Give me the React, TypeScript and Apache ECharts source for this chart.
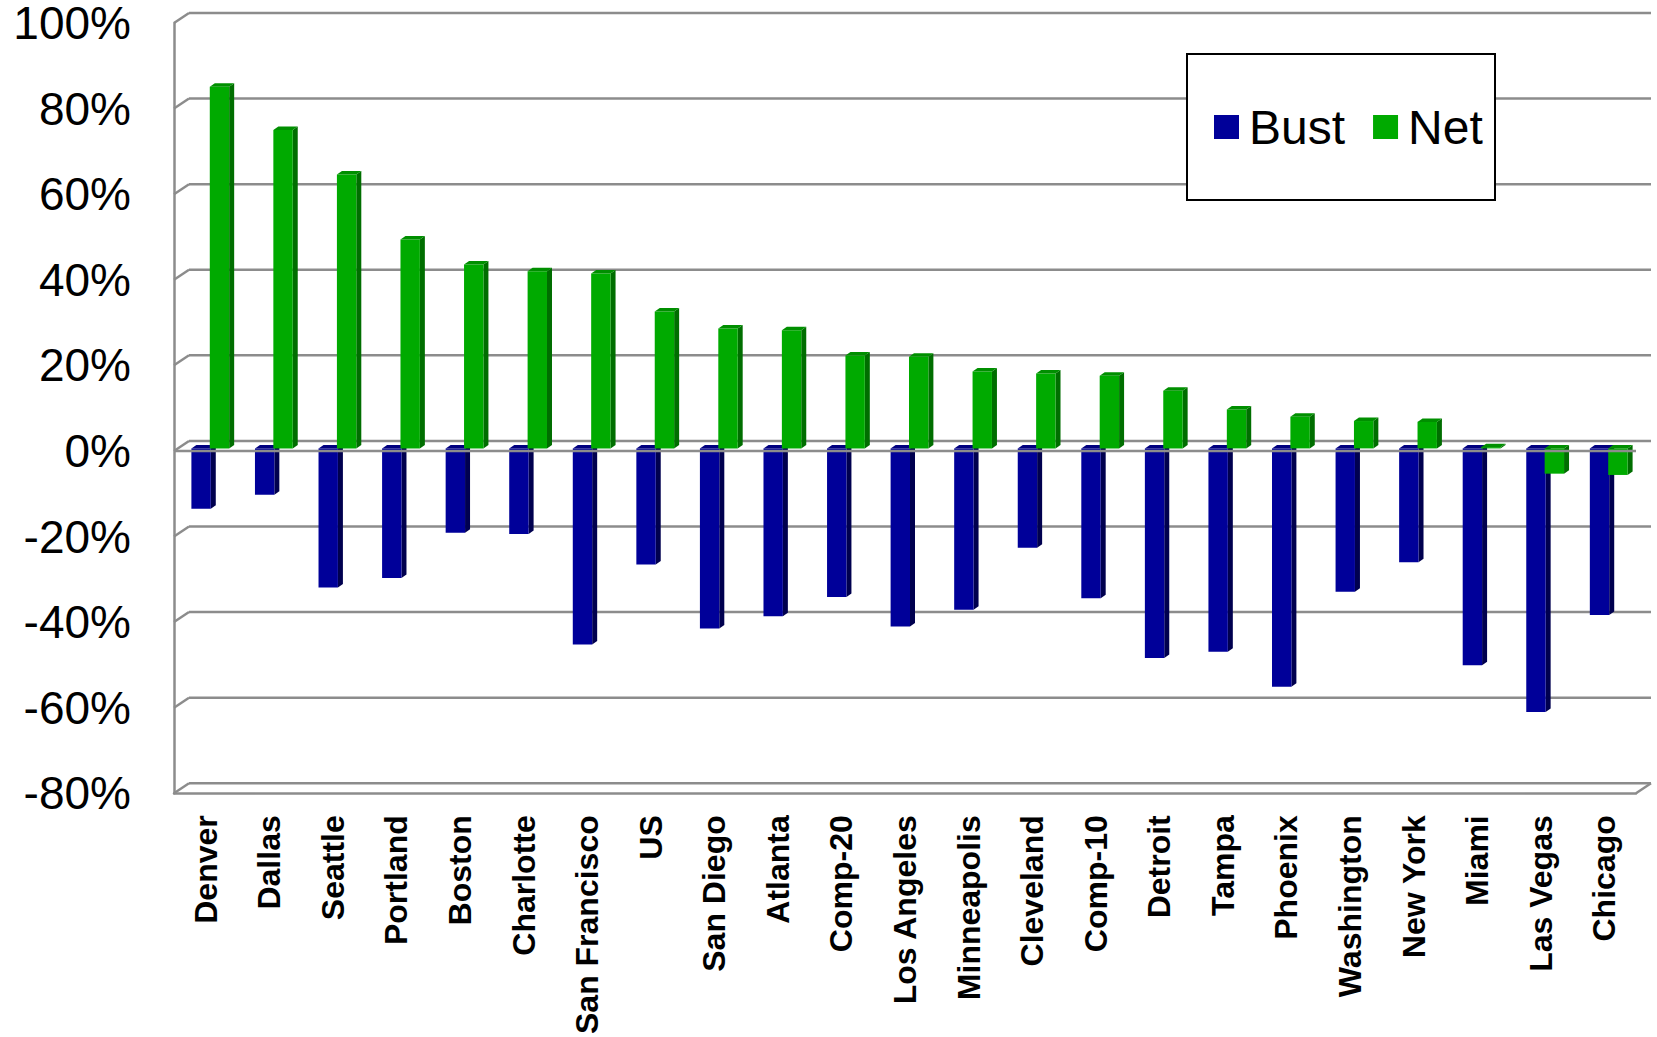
import React, { useEffect, useRef } from "react";
import * as echarts from "echarts";

const categories = [
  "Denver", "Dallas", "Seattle", "Portland", "Boston", "Charlotte", "San Francisco",
  "US", "San Diego", "Atlanta", "Comp-20", "Los Angeles", "Minneapolis", "Cleveland",
  "Comp-10", "Detroit", "Tampa", "Phoenix", "Washington", "New York", "Miami",
  "Las Vegas", "Chicago",
];
const bust = [
  -14.1, -10.8, -32.5, -30.3, -19.7, -20.0, -45.8, -27.1, -42.1, -39.2, -34.7, -41.6,
  -37.7, -23.2, -35.0, -49.0, -47.5, -55.7, -33.5, -26.6, -50.7, -61.6, -38.9,
];
const net = [
  84.5, 74.4, 64.0, 48.8, 43.0, 41.4, 40.9, 32.0, 28.0, 27.6, 21.7, 21.4,
  18.0, 17.5, 17.0, 13.5, 9.1, 7.4, 6.4, 6.2, 0.3, -5.9, -6.2,
];
const yTicks = [-80, -60, -40, -20, 0, 20, 40, 60, 80, 100];

// styling constants
const DX = 15; // wall depth
const DY = 10;
const OX = 5; // bar front offset
const OY = -2.5;
const BDX = 5; // bar depth
const BDY = 3.5;
const GRID_COLOR = "#8c8c8c";

const palette = {
  Bust: { front: "#000099", side: "#00004f", top: "#00007f" },
  Net: { front: "#00aa00", side: "#006e00", top: "#008f00" },
};

function makeBarRenderer(name: "Bust" | "Net") {
  const c = palette[name];
  return (params: any, api: any) => {
    const i = api.value(0);
    const v = api.value(1);
    const p0 = api.coord([i, 0]);
    const p1 = api.coord([i, v]);
    const band = api.size([1, 0])[0];
    const w = band * 0.305;
    const cx = p0[0] + OX;
    const x0 = name === "Bust" ? cx - w : cx - 1;
    const x1 = x0 + w;
    const yA = Math.min(p0[1], p1[1]) + OY;
    const yB = Math.max(p0[1], p1[1]) + OY;
    return {
      type: "group",
      children: [
        {
          type: "polygon",
          shape: { points: [[x1, yA], [x1 + BDX, yA - BDY], [x1 + BDX, yB - BDY], [x1, yB]] },
          style: { fill: c.side },
        },
        {
          type: "rect",
          shape: { x: x0, y: yA, width: w, height: yB - yA },
          style: { fill: c.front },
        },
        {
          type: "polygon",
          shape: { points: [[x0, yA], [x0 + BDX, yA - BDY], [x1 + BDX, yA - BDY], [x1, yA]] },
          style: { fill: c.top },
        },
      ],
    };
  };
}

export default function App() {
  const ref = useRef<HTMLDivElement>(null);
  useEffect(() => {
    if (!ref.current) return;
    const chart = echarts.init(ref.current, null, { renderer: "svg" });
    const lineStyle = { stroke: GRID_COLOR, lineWidth: 2.5 };
    const option: any = {
      animation: false,
      backgroundColor: "#ffffff",
      grid: { left: 174, top: 22, width: 1462, height: 777 },
      legend: {
        data: ["Bust", "Net"],
        left: 1214,
        top: 103,
        padding: 0,
        icon: "rect",
        itemWidth: 25,
        itemHeight: 24,
        itemGap: 28,
        z: 20,
        textStyle: {
          fontFamily: "Liberation Sans",
          fontSize: 48,
          lineHeight: 48,
          color: "#000",
          padding: [0, 0, 0, 5],
        },
      },
      graphic: [
        {
          type: "rect",
          z: 10,
          shape: { x: 1187, y: 54, width: 308, height: 146 },
          style: { fill: "#fff", stroke: "#000", lineWidth: 2 },
        },
      ],
      xAxis: {
        type: "category",
        data: categories,
        axisLine: { show: true, onZero: false, lineStyle: { color: GRID_COLOR, width: 2.5 } },
        axisTick: { show: false },
        splitLine: { show: false },
        axisLabel: {
          rotate: 90,
          margin: 22,
          interval: 0,
          fontFamily: "Liberation Sans",
          fontWeight: "bold",
          fontSize: 32,
          color: "#000",
        },
      },
      yAxis: {
        type: "value",
        min: -80,
        max: 100,
        interval: 20,
        axisLine: { show: true, lineStyle: { color: GRID_COLOR, width: 2.5 } },
        axisTick: { show: false },
        splitLine: { show: false },
        axisLabel: {
          formatter: "{value}%",
          margin: 43,
          fontFamily: "Liberation Sans",
          fontSize: 46,
          lineHeight: 40,
          padding: [4, 0, 0, 0],
          color: "#000",
        },
      },
      series: [
        {
          type: "custom",
          name: "frame",
          silent: true,
          z: 1,
          data: [[0, 0]],
          encode: { x: 0, y: 1 },
          renderItem: (params: any, api: any) => {
            const cs = params.coordSys;
            const L = cs.x;
            const R = cs.x + cs.width;
            const children: any[] = [];
            yTicks.forEach((t) => {
              const y = api.coord([0, t])[1];
              children.push({
                type: "line",
                shape: { x1: L + DX, y1: y - DY, x2: R + DX, y2: y - DY },
                style: lineStyle,
              });
              children.push({
                type: "line",
                shape: { x1: L, y1: y, x2: L + DX, y2: y - DY },
                style: lineStyle,
              });
            });
            const yb = api.coord([0, yTicks[0]])[1];
            children.push({
              type: "line",
              shape: { x1: R, y1: yb, x2: R + DX, y2: yb - DY },
              style: lineStyle,
            });
            return { type: "group", children };
          },
        },
        {
          type: "custom",
          name: "Bust",
          z: 3,
          itemStyle: { color: palette.Bust.front },
          data: bust.map((v, i) => [i, v]),
          encode: { x: 0, y: 1 },
          renderItem: makeBarRenderer("Bust"),
        },
        {
          type: "custom",
          name: "Net",
          z: 4,
          itemStyle: { color: palette.Net.front },
          data: net.map((v, i) => [i, v]),
          encode: { x: 0, y: 1 },
          renderItem: makeBarRenderer("Net"),
        },
        {
          type: "custom",
          name: "zero",
          silent: true,
          z: 5,
          data: [[0, 0]],
          encode: { x: 0, y: 1 },
          renderItem: (params: any, api: any) => {
            const cs = params.coordSys;
            const y = api.coord([0, 0])[1];
            return {
              type: "line",
              shape: { x1: cs.x, y1: y, x2: cs.x + cs.width, y2: y },
              style: lineStyle,
            };
          },
        },
      ],
    };
    chart.setOption(option);
    return () => chart.dispose();
  }, []);
  return (
    <div
      ref={ref}
      style={{ position: "absolute", left: 0, top: 0, width: 1657, height: 1037 }}
    />
  );
}
